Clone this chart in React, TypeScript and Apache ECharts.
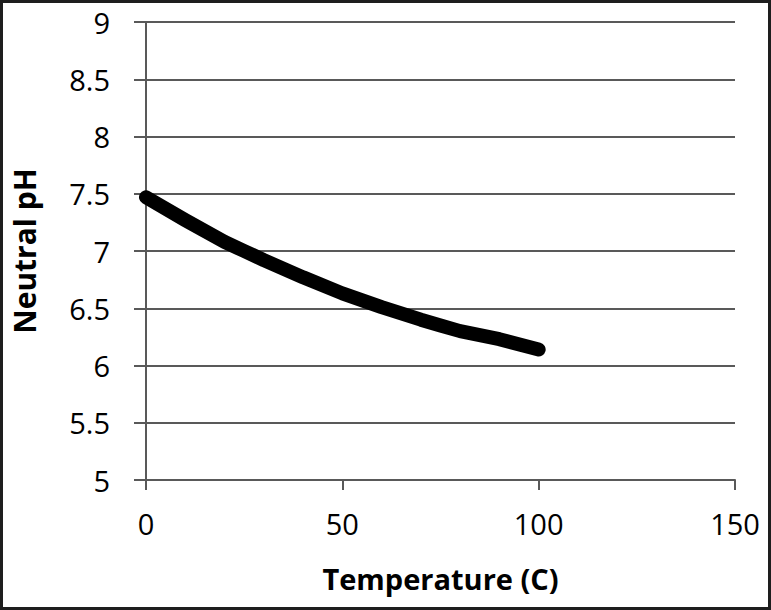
import React, { useEffect, useRef } from "react";
import * as echarts from "echarts";

const temperatures = [0, 10, 20, 25, 30, 40, 50, 60, 70, 75, 80, 90, 100];
const neutralPH = [7.47, 7.27, 7.08, 7.0, 6.92, 6.77, 6.63, 6.51, 6.4, 6.35, 6.3, 6.23, 6.14];

export default function App() {
  const ref = useRef<HTMLDivElement>(null);
  useEffect(() => {
    if (!ref.current) return;
    const chart = echarts.init(ref.current, null, { renderer: "svg" });
    const font = "'Open Sans', Lato, sans-serif";
    chart.setOption({
      animation: false,
      backgroundColor: "#ffffff",
      textStyle: { fontFamily: font },
      graphic: [
        {
          type: "rect",
          shape: { x: 1.5, y: 1.5, width: 768, height: 607 },
          style: { fill: "none", stroke: "#1e1e1e", lineWidth: 3 },
          silent: true,
        },
      ],
      grid: { left: 146, right: 36, top: 22, bottom: 130, containLabel: false },
      xAxis: {
        type: "value",
        min: 0,
        max: 150,
        interval: 50,
        name: "Temperature (C)",
        nameLocation: "middle",
        nameGap: 84,
        nameTextStyle: { fontSize: 29, fontWeight: "bold", color: "#000", fontFamily: font },
        axisLine: { show: true, lineStyle: { color: "#595959", width: 2 } },
        axisTick: { show: true, length: 10, lineStyle: { color: "#595959", width: 2 } },
        axisLabel: { fontSize: 29, color: "#000", margin: 29, fontFamily: font },
        splitLine: { show: false },
      },
      yAxis: {
        type: "value",
        min: 5,
        max: 9,
        interval: 0.5,
        name: "Neutral pH",
        nameLocation: "middle",
        nameGap: 107,
        nameTextStyle: { fontSize: 30, fontWeight: "bold", color: "#000", fontFamily: font },
        axisLine: { show: true, lineStyle: { color: "#595959", width: 2 } },
        axisTick: { show: true, length: 12, lineStyle: { color: "#595959", width: 2 } },
        axisLabel: { fontSize: 29, color: "#000", margin: 36, fontFamily: font },
        splitLine: { show: true, lineStyle: { color: "#595959", width: 2 } },
      },
      series: [
        {
          type: "line",
          data: temperatures.map((t, i) => [t, neutralPH[i]]),
          showSymbol: false,
          symbol: "none",
          smooth: false,
          lineStyle: { color: "#000", width: 14, cap: "round", join: "round" },
        },
      ],
    });
    return () => chart.dispose();
  }, []);
  return (
    <div
      ref={ref}
      style={{ position: "absolute", left: 0, top: 0, width: 771, height: 610 }}
    />
  );
}
